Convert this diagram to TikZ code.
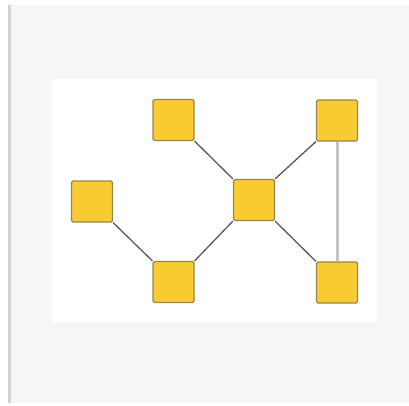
\documentclass[tikz,border=0pt]{standalone}
\definecolor{panelgray}{HTML}{F6F6F6}
\definecolor{framegray}{HTML}{D2D2D2}
\definecolor{nodefill}{HTML}{F8CB30}
\definecolor{nodeborder}{HTML}{958650}
\definecolor{edgedark}{HTML}{5A5A5A}
\definecolor{edgelight}{HTML}{C4C4C4}
\tikzset{
  vertex/.style={rectangle, rounded corners=1.5pt, draw=nodeborder, line width=1.2pt,
    fill=nodefill, minimum width=41pt, minimum height=41pt, inner sep=0pt},
  darkedge/.style={draw=edgedark, line width=1.3pt},
  lightedge/.style={draw=edgelight, line width=3pt}
}
\begin{document}
\begin{tikzpicture}[x=1pt,y=-1pt]
  \useasboundingbox (0,0) rectangle (409,405);
  \fill[white] (0,0) rectangle (409,405);
  % outer panel with its left rule
  \fill[panelgray] (8,5) rectangle (409,403);
  \fill[framegray] (8,5) rectangle (11,403);
  % drawing canvas
  \fill[white] (52,79) rectangle (377,322);
  % vertices
  \node[vertex] (a) at (92,201.5) {};
  \node[vertex] (b) at (173.5,282) {};
  \node[vertex] (c) at (173.5,120) {};
  \node[vertex] (d) at (254,200) {};
  \node[vertex] (e) at (337,120.5) {};
  \node[vertex] (f) at (337,282.5) {};
  % edges, corner to corner
  \path[darkedge] (a.south east) -- (b.north west);
  \path[darkedge] (b.north east) -- (d.south west);
  \path[darkedge] (c.south east) -- (d.north west);
  \path[darkedge] (d.north east) -- (e.south west);
  \path[darkedge] (d.south east) -- (f.north west);
  \path[lightedge] (e.south) -- (f.north);
\end{tikzpicture}
\end{document}
